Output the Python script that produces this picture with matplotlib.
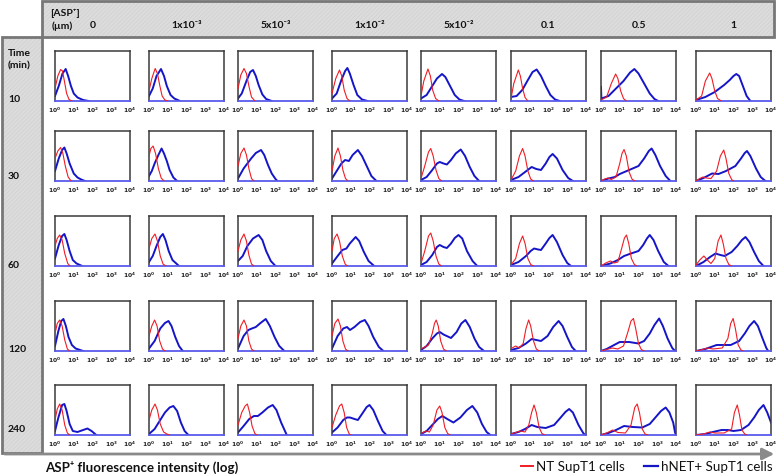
import matplotlib
matplotlib.use("Agg")
import matplotlib.pyplot as plt
from matplotlib.patches import Rectangle, FancyArrowPatch
from matplotlib.lines import Line2D

plt.rcParams['font.family'] = ['Lato', 'DejaVu Sans']
plt.rcParams['hatch.linewidth'] = 0.5

# ---------------- data ----------------
concentrations = ["0", "1x10⁻³", "5x10⁻³", "1x10⁻²", "5x10⁻²", "0.1", "0.5", "1"]
times = ["10", "30", "60", "120", "240"]
tick_labels = [r"$\mathbf{10^{0}}$", r"$\mathbf{10^{1}}$", r"$\mathbf{10^{2}}$",
               r"$\mathbf{10^{3}}$", r"$\mathbf{10^{4}}$"]
series_names = ["NT SupT1 cells", "hNET+ SupT1 cells"]

# curves: (log10 intensity, relative count)
red_10 = [
    [(0,0.25),(0.15,0.5),(0.3,0.63),(0.4,0.6),(0.5,0.4),(0.62,0.15),(0.75,0.03),(0.9,0)],
    [(0,0.2),(0.15,0.45),(0.33,0.65),(0.45,0.55),(0.58,0.3),(0.7,0.1),(0.85,0.02),(1.0,0)],
    [(0,0.25),(0.15,0.52),(0.32,0.65),(0.45,0.55),(0.58,0.3),(0.72,0.08),(0.9,0)],
    [(0,0.15),(0.2,0.45),(0.4,0.62),(0.52,0.5),(0.65,0.22),(0.8,0.05),(0.95,0)],
    [(0,0.1),(0.15,0.4),(0.37,0.64),(0.5,0.5),(0.62,0.22),(0.78,0.05),(0.95,0)],
    [(0,0.05),(0.15,0.35),(0.39,0.62),(0.5,0.5),(0.62,0.25),(0.75,0.07),(0.9,0)],
    [(0,0.02),(0.3,0.08),(0.55,0.35),(0.78,0.54),(0.9,0.45),(1.05,0.2),(1.2,0.05),(1.35,0)],
    [(0,0.02),(0.3,0.1),(0.5,0.4),(0.73,0.56),(0.85,0.45),(1.0,0.2),(1.15,0.05),(1.35,0)],
]
blue_10 = [
    [(0,0.1),(0.2,0.3),(0.4,0.55),(0.57,0.64),(0.7,0.5),(0.85,0.3),(1.0,0.15),(1.2,0.07),(1.5,0.02),(1.8,0)],
    [(0,0.1),(0.2,0.25),(0.4,0.5),(0.64,0.64),(0.8,0.5),(0.95,0.3),(1.15,0.12),(1.35,0.05),(1.65,0)],
    [(0,0.05),(0.2,0.15),(0.45,0.4),(0.65,0.58),(0.8,0.62),(0.95,0.5),(1.1,0.32),(1.3,0.13),(1.5,0.04),(1.8,0)],
    [(0,0.05),(0.25,0.15),(0.5,0.42),(0.7,0.6),(0.82,0.66),(0.95,0.55),(1.15,0.32),(1.35,0.12),(1.6,0.03),(1.9,0)],
    [(0,0.05),(0.3,0.12),(0.6,0.3),(0.85,0.45),(1.12,0.54),(1.3,0.48),(1.55,0.3),(1.8,0.12),(2.05,0.03),(2.3,0)],
    [(0,0.08),(0.3,0.1),(0.6,0.22),(0.9,0.42),(1.15,0.58),(1.37,0.63),(1.6,0.5),(1.85,0.3),(2.1,0.12),(2.35,0.03),(2.6,0)],
    [(0,0.28),(0.02,0.05),(0.4,0.1),(0.8,0.25),(1.2,0.4),(1.55,0.57),(1.78,0.64),(2.0,0.55),(2.3,0.35),(2.6,0.15),(2.85,0.04),(3.05,0)],
    [(0,0.02),(0.5,0.08),(1.0,0.18),(1.5,0.32),(1.8,0.42),(2.0,0.5),(2.15,0.54),(2.3,0.5),(2.5,0.3),(2.7,0.1),(2.9,0)],
]
red_30 = [
    [(0,0.45),(0.15,0.6),(0.3,0.67),(0.42,0.55),(0.55,0.3),(0.7,0.08),(0.86,0)],
    [(0,0.5),(0.1,0.65),(0.22,0.7),(0.35,0.55),(0.5,0.25),(0.65,0.06),(0.8,0)],
    [(0,0.3),(0.15,0.55),(0.32,0.66),(0.45,0.52),(0.58,0.25),(0.72,0.05),(0.85,0)],
    [(0,0.2),(0.15,0.5),(0.32,0.66),(0.45,0.5),(0.58,0.22),(0.72,0.05),(0.85,0)],
    [(0,0.05),(0.2,0.3),(0.4,0.58),(0.52,0.65),(0.65,0.5),(0.8,0.22),(0.95,0.05),(1.1,0)],
    [(0,0.02),(0.25,0.2),(0.45,0.5),(0.62,0.65),(0.75,0.5),(0.9,0.2),(1.05,0.04),(1.2,0)],
    [(0,0),(0.2,0.04),(0.37,0.06),(0.55,0.03),(0.8,0.08),(1.0,0.35),(1.12,0.55),(1.23,0.63),(1.35,0.5),(1.5,0.18),(1.65,0.04),(1.8,0)],
    [(0,0),(0.2,0.05),(0.37,0.08),(0.55,0.06),(0.8,0.05),(1.1,0.2),(1.3,0.5),(1.48,0.62),(1.6,0.45),(1.75,0.15),(1.9,0.03),(2.0,0)],
]
blue_30 = [
    [(0,0.2),(0.2,0.45),(0.38,0.62),(0.5,0.67),(0.62,0.55),(0.78,0.35),(1.0,0.15),(1.2,0.07),(1.4,0.03),(1.6,0)],
    [(0,0.1),(0.15,0.2),(0.3,0.35),(0.5,0.52),(0.67,0.65),(0.8,0.55),(0.95,0.4),(1.1,0.22),(1.3,0.07),(1.5,0)],
    [(0,0.05),(0.3,0.25),(0.7,0.45),(0.95,0.56),(1.23,0.62),(1.4,0.52),(1.6,0.32),(1.8,0.15),(2.0,0.04),(2.1,0)],
    [(0,0.05),(0.25,0.2),(0.5,0.35),(0.7,0.42),(0.9,0.4),(1.1,0.52),(1.38,0.62),(1.6,0.5),(1.85,0.3),(2.1,0.1),(2.37,0)],
    [(0,0.02),(0.3,0.08),(0.6,0.22),(0.85,0.35),(1.0,0.38),(1.2,0.35),(1.38,0.33),(1.6,0.42),(1.85,0.55),(2.12,0.63),(2.35,0.5),(2.6,0.28),(2.85,0.1),(3.1,0)],
    [(0,0.02),(0.4,0.08),(0.75,0.18),(1.1,0.28),(1.35,0.24),(1.6,0.22),(1.85,0.35),(2.05,0.48),(2.22,0.54),(2.45,0.45),(2.75,0.22),(3.05,0.06),(3.3,0)],
    [(0,0),(0.4,0.05),(0.74,0.08),(1.0,0.14),(1.5,0.22),(2.0,0.3),(2.3,0.45),(2.55,0.6),(2.7,0.65),(2.9,0.52),(3.15,0.3),(3.45,0.1),(3.7,0)],
    [(0,0),(0.4,0.06),(0.86,0.15),(1.2,0.14),(1.6,0.2),(2.1,0.3),(2.4,0.45),(2.6,0.56),(2.72,0.6),(2.9,0.5),(3.2,0.25),(3.45,0.08),(3.7,0)],
]
red_60 = [
    [(0,0.4),(0.12,0.55),(0.25,0.62),(0.38,0.52),(0.52,0.25),(0.68,0.05),(0.8,0)],
    [(0,0.35),(0.15,0.55),(0.32,0.64),(0.45,0.5),(0.6,0.2),(0.75,0.04),(0.9,0)],
    [(0,0.3),(0.15,0.52),(0.32,0.64),(0.45,0.5),(0.58,0.22),(0.72,0.04),(0.85,0)],
    [(0,0.3),(0.12,0.55),(0.27,0.64),(0.4,0.5),(0.55,0.2),(0.7,0.04),(0.82,0)],
    [(0,0.05),(0.2,0.3),(0.4,0.6),(0.52,0.66),(0.65,0.5),(0.8,0.2),(0.95,0.04),(1.1,0)],
    [(0,0.02),(0.25,0.15),(0.45,0.45),(0.62,0.6),(0.75,0.45),(0.9,0.15),(1.05,0.03),(1.2,0)],
    [(0,0),(0.25,0.06),(0.5,0.1),(0.7,0.06),(0.9,0.08),(1.1,0.35),(1.25,0.56),(1.36,0.62),(1.48,0.45),(1.62,0.15),(1.78,0.03),(1.9,0)],
    [(0,0.02),(0.2,0.12),(0.42,0.2),(0.6,0.12),(0.8,0.05),(1.0,0.15),(1.18,0.5),(1.33,0.62),(1.45,0.45),(1.6,0.15),(1.75,0.03),(1.9,0)],
]
blue_60 = [
    [(0,0.15),(0.2,0.42),(0.38,0.6),(0.5,0.64),(0.62,0.52),(0.78,0.3),(0.95,0.12),(1.15,0.05),(1.45,0)],
    [(0,0.08),(0.2,0.2),(0.4,0.4),(0.6,0.58),(0.74,0.64),(0.88,0.52),(1.05,0.3),(1.25,0.12),(1.6,0)],
    [(0,0.1),(0.25,0.2),(0.5,0.4),(0.8,0.55),(1.1,0.62),(1.3,0.52),(1.5,0.3),(1.75,0.1),(2.0,0)],
    [(0,0.05),(0.3,0.2),(0.55,0.32),(0.77,0.35),(0.95,0.45),(1.26,0.58),(1.45,0.5),(1.7,0.28),(1.95,0.1),(2.25,0)],
    [(0,0.02),(0.3,0.08),(0.6,0.22),(0.85,0.38),(1.0,0.42),(1.2,0.38),(1.38,0.36),(1.6,0.45),(1.8,0.56),(2.0,0.62),(2.2,0.55),(2.45,0.3),(2.75,0.1),(3.0,0)],
    [(0,0.02),(0.4,0.08),(0.8,0.2),(1.05,0.3),(1.23,0.35),(1.45,0.33),(1.6,0.32),(1.85,0.45),(2.05,0.56),(2.22,0.62),(2.45,0.48),(2.75,0.22),(3.0,0.06),(3.2,0)],
    [(0,0),(0.5,0.05),(0.9,0.12),(1.23,0.2),(1.6,0.25),(2.0,0.3),(2.25,0.42),(2.45,0.55),(2.6,0.62),(2.8,0.52),(3.05,0.3),(3.35,0.08),(3.6,0)],
    [(0,0),(0.4,0.08),(0.75,0.18),(1.04,0.25),(1.3,0.22),(1.53,0.2),(1.9,0.28),(2.2,0.4),(2.45,0.52),(2.64,0.58),(2.85,0.48),(3.1,0.28),(3.35,0.1),(3.6,0)],
]
red_120 = [
    [(0,0.35),(0.12,0.55),(0.25,0.62),(0.38,0.5),(0.52,0.22),(0.66,0.04),(0.78,0)],
    [(0,0.3),(0.15,0.5),(0.3,0.62),(0.43,0.5),(0.57,0.2),(0.72,0.04),(0.85,0)],
    [(0,0.25),(0.15,0.5),(0.32,0.62),(0.45,0.5),(0.58,0.2),(0.72,0.04),(0.85,0)],
    [(0,0.3),(0.15,0.55),(0.32,0.64),(0.45,0.5),(0.58,0.2),(0.72,0.04),(0.85,0)],
    [(0,0.04),(0.2,0.08),(0.4,0.12),(0.6,0.35),(0.72,0.55),(0.81,0.62),(0.92,0.5),(1.05,0.2),(1.2,0.04),(1.35,0)],
    [(0,0.05),(0.25,0.1),(0.45,0.06),(0.65,0.15),(0.8,0.45),(0.94,0.62),(1.05,0.5),(1.2,0.2),(1.35,0.04),(1.5,0)],
    [(0,0),(0.3,0.03),(0.6,0.06),(0.9,0.04),(1.2,0.1),(1.45,0.4),(1.6,0.6),(1.73,0.65),(1.85,0.45),(2.0,0.15),(2.15,0.03),(2.3,0)],
    [(0,0),(0.35,0.03),(0.6,0.06),(0.9,0.04),(1.4,0.06),(1.7,0.25),(1.85,0.55),(1.98,0.65),(2.1,0.45),(2.25,0.12),(2.4,0.02),(2.5,0)],
]
blue_120 = [
    [(0,0.1),(0.18,0.4),(0.33,0.6),(0.45,0.64),(0.58,0.5),(0.72,0.28),(0.9,0.12),(1.1,0.05),(1.5,0)],
    [(0,0.05),(0.3,0.2),(0.6,0.45),(0.85,0.56),(1.04,0.6),(1.2,0.5),(1.4,0.28),(1.6,0.1),(1.8,0)],
    [(0,0.05),(0.3,0.3),(0.55,0.42),(0.74,0.45),(0.95,0.48),(1.2,0.56),(1.48,0.64),(1.7,0.5),(1.95,0.28),(2.2,0.1),(2.47,0)],
    [(0,0.05),(0.3,0.3),(0.6,0.45),(0.8,0.48),(0.96,0.42),(1.2,0.48),(1.5,0.58),(1.75,0.62),(1.95,0.5),(2.2,0.28),(2.5,0.08),(2.74,0)],
    [(0,0.02),(0.3,0.1),(0.6,0.25),(0.85,0.35),(1.0,0.38),(1.2,0.33),(1.6,0.26),(1.9,0.38),(2.15,0.55),(2.37,0.62),(2.6,0.48),(2.85,0.25),(3.1,0.08),(3.36,0)],
    [(0,0.02),(0.4,0.06),(0.8,0.15),(1.1,0.24),(1.35,0.22),(1.6,0.2),(1.95,0.3),(2.25,0.48),(2.54,0.6),(2.75,0.5),(3.0,0.28),(3.25,0.08),(3.45,0)],
    [(0,0),(0.3,0.04),(0.6,0.1),(1.0,0.18),(1.5,0.18),(2.0,0.15),(2.3,0.2),(2.6,0.35),(2.85,0.52),(3.1,0.65),(3.3,0.5),(3.55,0.25),(3.8,0.06),(3.95,0)],
    [(0,0),(0.5,0.04),(0.8,0.08),(1.1,0.12),(1.5,0.12),(1.85,0.12),(2.3,0.2),(2.6,0.35),(2.85,0.5),(3.1,0.6),(3.3,0.5),(3.55,0.25),(3.75,0.06),(3.85,0)],
]
red_240 = [
    [(0,0.3),(0.12,0.52),(0.25,0.62),(0.38,0.5),(0.52,0.2),(0.66,0.04),(0.78,0)],
    [(0,0.3),(0.15,0.5),(0.32,0.62),(0.45,0.5),(0.6,0.22),(0.78,0.06),(0.95,0.02),(1.1,0)],
    [(0,0.2),(0.2,0.45),(0.38,0.58),(0.5,0.62),(0.62,0.45),(0.75,0.18),(0.9,0.03),(1.0,0)],
    [(0,0.15),(0.2,0.4),(0.4,0.58),(0.52,0.62),(0.65,0.45),(0.78,0.15),(0.92,0.02),(1.0,0)],
    [(0,0.03),(0.15,0.06),(0.27,0.08),(0.45,0.06),(0.65,0.2),(0.85,0.5),(1.0,0.58),(1.12,0.45),(1.27,0.15),(1.42,0.03),(1.55,0)],
    [(0,0.02),(0.25,0.05),(0.5,0.08),(0.75,0.06),(0.95,0.2),(1.1,0.45),(1.23,0.6),(1.35,0.45),(1.5,0.15),(1.65,0.03),(1.8,0)],
    [(0,0),(0.3,0.04),(0.62,0.1),(0.9,0.05),(1.3,0.04),(1.6,0.2),(1.8,0.55),(1.93,0.62),(2.05,0.45),(2.2,0.12),(2.35,0.02),(2.5,0)],
    [(0,0),(0.4,0.02),(0.74,0.06),(1.0,0.04),(1.5,0.04),(1.9,0.12),(2.05,0.45),(2.2,0.6),(2.32,0.4),(2.45,0.1),(2.6,0.02),(2.7,0)],
]
blue_240 = [
    [(0,0.08),(0.18,0.35),(0.38,0.6),(0.5,0.62),(0.62,0.48),(0.78,0.22),(0.95,0.08),(1.2,0.06),(1.5,0.1),(1.73,0.13),(1.95,0.08),(2.2,0)],
    [(0,0.02),(0.3,0.12),(0.6,0.3),(0.85,0.45),(1.1,0.55),(1.3,0.58),(1.5,0.48),(1.7,0.25),(1.9,0.08),(2.1,0)],
    [(0,0.05),(0.3,0.18),(0.6,0.32),(0.85,0.38),(1.06,0.38),(1.3,0.45),(1.6,0.55),(1.85,0.6),(2.05,0.5),(2.3,0.25),(2.6,0)],
    [(0,0.05),(0.3,0.15),(0.6,0.3),(0.8,0.35),(0.96,0.35),(1.2,0.32),(1.38,0.3),(1.6,0.42),(1.85,0.56),(2.0,0.6),(2.2,0.5),(2.45,0.28),(2.7,0.08),(2.9,0)],
    [(0,0.02),(0.3,0.08),(0.6,0.2),(0.9,0.32),(1.14,0.38),(1.4,0.32),(1.73,0.25),(2.1,0.35),(2.45,0.5),(2.74,0.58),(3.0,0.45),(3.25,0.22),(3.5,0.06),(3.7,0)],
    [(0,0.02),(0.4,0.06),(0.75,0.12),(1.1,0.2),(1.4,0.16),(1.85,0.14),(2.3,0.2),(2.65,0.35),(2.9,0.46),(3.1,0.52),(3.3,0.45),(3.6,0.2),(3.85,0.04),(3.95,0)],
    [(0,0),(0.4,0.04),(0.8,0.1),(1.23,0.18),(1.7,0.16),(2.2,0.15),(2.6,0.22),(2.9,0.35),(3.2,0.48),(3.45,0.55),(3.65,0.45),(3.85,0.25),(3.95,0.05),(4.0,0)],
    [(0,0),(0.5,0.02),(0.9,0.06),(1.36,0.1),(1.7,0.1),(2.0,0.08),(2.4,0.1),(2.8,0.2),(3.1,0.35),(3.35,0.5),(3.6,0.6),(3.8,0.45),(3.95,0.3),(4.0,0.25)],
]
red_rows = [red_10, red_30, red_60, red_120, red_240]
blue_rows = [blue_10, blue_30, blue_60, blue_120, blue_240]

# ---------------- layout ----------------
W, H = 778, 477
RED = "#f01c24"
BLUE = "#1515c8"
GRAY = "#8a8a8a"
TXT = "#111111"

fig = plt.figure(figsize=(W / 100, H / 100), dpi=100)

def fx(px):
    return px / W

def fy(py):
    return 1 - py / H

def gray_box(x0, y0, x1, y1):
    fig.patches.append(Rectangle((fx(x0), fy(y1)), (x1 - x0) / W, (y1 - y0) / H,
                                 transform=fig.transFigure, facecolor="#dcdcdc",
                                 edgecolor="#d0d0d0", hatch="////////", lw=0, zorder=0))
    fig.patches.append(Rectangle((fx(x0), fy(y1)), (x1 - x0) / W, (y1 - y0) / H,
                                 transform=fig.transFigure, facecolor="none",
                                 edgecolor="#777777", lw=2.0, zorder=1))

gray_box(42, 2, 774, 38)
gray_box(2, 38, 42, 454)

fig.patches.append(FancyArrowPatch((fx(2), fy(455)), (fx(777), fy(455)),
                                   transform=fig.transFigure,
                                   arrowstyle="-|>,head_length=7,head_width=3.5",
                                   color=GRAY, lw=2.0, mutation_scale=1, zorder=2))

col_left = [55, 149, 238, 332, 421, 511, 601, 696]
row_top = [52, 132, 217, 302, 386]
pw, ph = 75, 50

for r in range(5):
    for c in range(8):
        ax = fig.add_axes([fx(col_left[c]), fy(row_top[r] + ph), pw / W, ph / H])
        rx, ry = zip(*red_rows[r][c])
        bx, by = zip(*blue_rows[r][c])
        ax.plot(rx, ry, color=RED, lw=0.8, zorder=3)
        ax.plot(bx, by, color=BLUE, lw=1.4, zorder=2)
        ax.set_xlim(0, 4)
        ax.set_ylim(0, 1)
        ax.set_yticks([])
        ax.set_xticks(range(5))
        ax.set_xticklabels(tick_labels, fontsize=4.3, color="#222222")
        ax.tick_params(axis="x", length=0, pad=2.5)
        for s in ("top", "right", "left"):
            ax.spines[s].set_color("#3a3a3a")
            ax.spines[s].set_linewidth(1.1)
        ax.spines["bottom"].set_color("#5a5aee")
        ax.spines["bottom"].set_linewidth(1.3)

fig.text(fx(50), fy(13), "[ASP⁺]", fontsize=7.5, fontweight="bold", ha="left", va="center", color=TXT)
fig.text(fx(52), fy(26), "(µm)", fontsize=7.5, fontweight="bold", ha="left", va="center", color=TXT)
for c, lab in enumerate(concentrations):
    fig.text(fx(col_left[c] + pw / 2), fy(26), lab, fontsize=7.5, fontweight="bold",
             ha="center", va="center", color=TXT)

fig.text(fx(8), fy(53), "Time", fontsize=7.5, fontweight="bold", ha="left", va="center", color=TXT)
fig.text(fx(8), fy(66), "(min)", fontsize=7.5, fontweight="bold", ha="left", va="center", color=TXT)
row_label_y = [100, 177, 265, 350, 430]
for r, lab in enumerate(times):
    fig.text(fx(8), fy(row_label_y[r]), lab, fontsize=7.5, fontweight="bold",
             ha="left", va="center", color=TXT)

fig.text(fx(45), fy(467), "ASP⁺ fluorescence intensity (log)", fontsize=9.6, fontweight="bold",
         ha="left", va="center", color=TXT)

fig.lines.append(Line2D([fx(521), fx(533)], [fy(467), fy(467)], transform=fig.transFigure, color=RED, lw=1.4))
fig.text(fx(536), fy(467), series_names[0], fontsize=9.6, ha="left", va="center", color=TXT)
fig.lines.append(Line2D([fx(644), fx(658)], [fy(467), fy(467)], transform=fig.transFigure, color=BLUE, lw=1.6))
fig.text(fx(661), fy(467), series_names[1], fontsize=9.6, ha="left", va="center", color=TXT)

fig.savefig("out.png", dpi=100)
